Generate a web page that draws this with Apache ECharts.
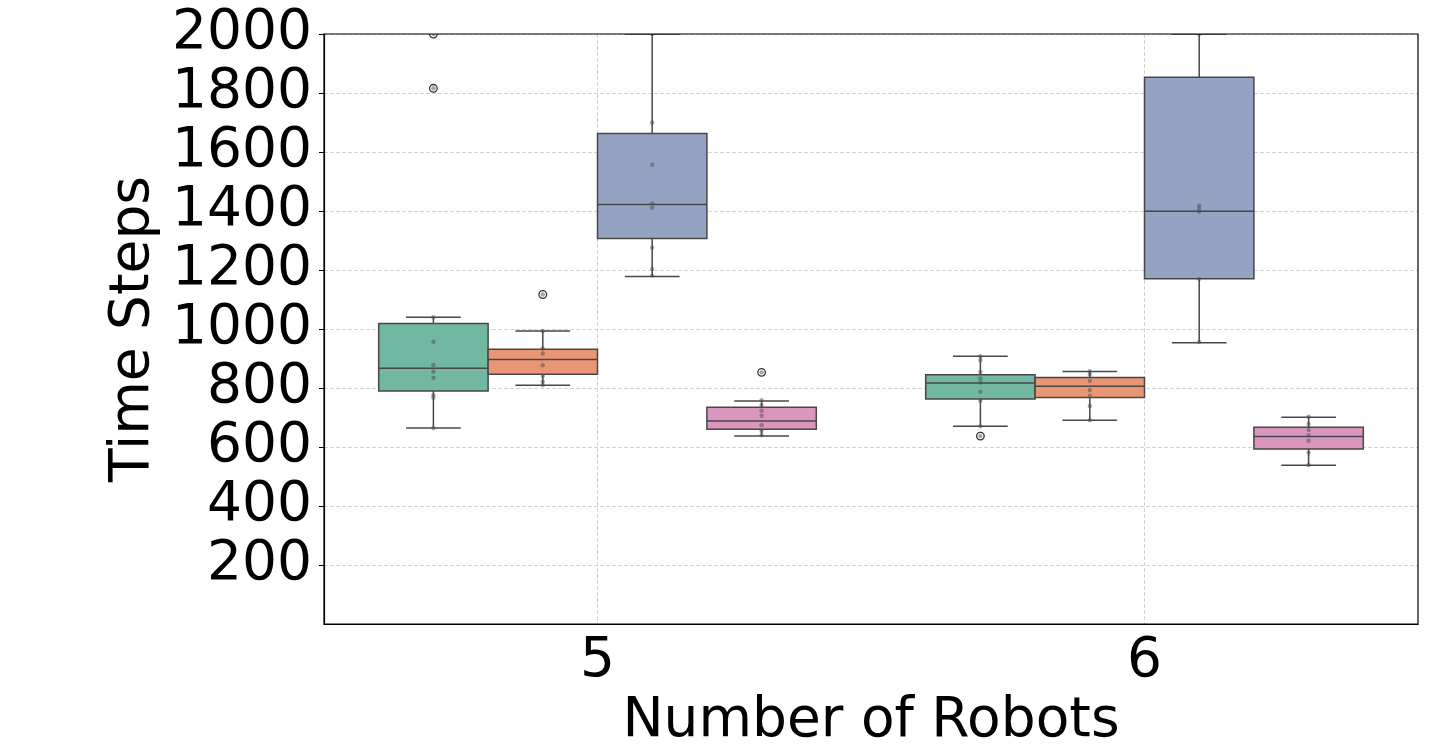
<!DOCTYPE html>
<html>
<head>
<meta charset="utf-8">
<script src="https://cdn.jsdelivr.net/npm/echarts@6/dist/echarts.min.js"></script>
<style>
html,body{margin:0;padding:0;background:#fff;}
#chart{width:1440px;height:753px;}
</style>
</head>
<body>
<div id="chart"></div>
<script>
// ---- data ----
var categories = ['5', '6'];
var hueNames = ['Method A', 'Method B', 'Method C', 'Method D'];
var hueColors = ['#71b7a1', '#e99675', '#95a3c3', '#db96c0'];

// box stats per category: [min whisker, Q1, median, Q3, max whisker]
var boxA = [[664, 790, 867, 1019, 1040], [670, 763, 817, 845, 908]];
var boxB = [[809, 847, 897, 931, 993], [691, 768, 806, 836, 856]];
var boxC = [[1178, 1307, 1422, 1663, 2000], [953, 1170, 1399, 1853, 2000]];
var boxD = [[637, 660, 688, 735, 756], [538, 593, 636, 667, 701]];

// outliers per category
var flierA = [[2000, 1816], [637]];
var flierB = [[1117], []];
var flierC = [[], []];
var flierD = [[853], []];

// individual observations per category
var pointsA = [[2000, 1816, 1040, 957, 878, 856, 835, 776, 767, 664], [908, 894, 854, 832, 819, 787, 757, 670, 637]];
var pointsB = [[1117, 993, 934, 917, 877, 841, 821, 809], [857, 846, 824, 793, 773, 739, 691]];
var pointsC = [[2000, 1700, 1557, 1426, 1411, 1276, 1203, 1181], [2000, 1418, 1408, 1398, 1170, 956]];
var pointsD = [[853, 759, 742, 723, 706, 674, 655, 640], [703, 678, 658, 640, 621, 581, 539]];

var yTicks = [200, 400, 600, 800, 1000, 1200, 1400, 1600, 1800, 2000];

var boxes = [boxA, boxB, boxC, boxD];
var fliers = [flierA, flierB, flierC, flierD];
var points = [pointsA, pointsB, pointsC, pointsD];

var LINE = '#474747';
var FONT = 'DejaVu Sans';

function hueCenter(api, cat, hue) {
  var band = api.size([1, 0])[0];
  var w = band * 0.8 / 4;
  return { cx: api.coord([cat, 0])[0] + (hue - 1.5) * w, w: w };
}

function boxRender(hue) {
  return function (params, api) {
    var cat = api.value(0);
    var hc = hueCenter(api, cat, hue);
    var cx = hc.cx, w = hc.w;
    function y(v) { return api.coord([cat, v])[1]; }
    var ymin = y(api.value(1)), yq1 = y(api.value(2)), ymed = y(api.value(3)),
        yq3 = y(api.value(4)), ymax = y(api.value(5));
    var ls = { stroke: LINE, lineWidth: 1.5 };
    return {
      type: 'group',
      children: [
        { type: 'line', shape: { x1: cx, y1: yq3, x2: cx, y2: ymax }, style: ls },
        { type: 'line', shape: { x1: cx, y1: yq1, x2: cx, y2: ymin }, style: ls },
        { type: 'line', shape: { x1: cx - w / 4, y1: ymax, x2: cx + w / 4, y2: ymax }, style: ls },
        { type: 'line', shape: { x1: cx - w / 4, y1: ymin, x2: cx + w / 4, y2: ymin }, style: ls },
        { type: 'rect', shape: { x: cx - w / 2, y: yq3, width: w, height: yq1 - yq3 },
          style: { fill: hueColors[hue], stroke: LINE, lineWidth: 1.5 } },
        { type: 'line', shape: { x1: cx - w / 2, y1: ymed, x2: cx + w / 2, y2: ymed }, style: ls }
      ]
    };
  };
}

function flierRender(hue) {
  return function (params, api) {
    var cat = api.value(0);
    var hc = hueCenter(api, cat, hue);
    var p = api.coord([cat, api.value(1)]);
    return { type: 'circle', shape: { cx: hc.cx, cy: p[1], r: 3.8 },
      style: { fill: '#ffffff', stroke: '#333333', lineWidth: 1.3 } };
  };
}

function pointRender(hue) {
  return function (params, api) {
    var cat = api.value(0);
    var hc = hueCenter(api, cat, hue);
    var p = api.coord([cat, api.value(1)]);
    return { type: 'circle', shape: { cx: hc.cx, cy: p[1], r: 2.2 },
      style: { fill: '#4d4d4d', opacity: 0.5 } };
  };
}

var series = [];
// vertical dashed grid lines at category centres
series.push({
  type: 'custom', name: 'vgrid', z: 1, silent: true,
  data: categories.map(function (c, i) { return [i, 0]; }),
  renderItem: function (params, api) {
    var x = api.coord([api.value(0), 0])[0];
    var cs = params.coordSys;
    return { type: 'line', shape: { x1: x, y1: cs.y, x2: x, y2: cs.y + cs.height },
      style: { stroke: '#cfcfcf', lineWidth: 0.9, lineDash: [4, 2] } };
  }
});

for (var h = 0; h < 4; h++) {
  series.push({
    type: 'custom', name: hueNames[h], z: 2, clip: true,
    data: boxes[h].map(function (b, i) { return [i].concat(b); }),
    encode: { x: 0, y: [1, 2, 3, 4, 5] },
    renderItem: boxRender(h)
  });
}
for (var h2 = 0; h2 < 4; h2++) {
  var fd = [];
  fliers[h2].forEach(function (arr, i) { arr.forEach(function (v) { fd.push([i, v]); }); });
  series.push({ type: 'custom', name: hueNames[h2] + ' outliers', z: 3, clip: true,
    data: fd, encode: { x: 0, y: 1 }, renderItem: flierRender(h2) });
}
for (var h3 = 0; h3 < 4; h3++) {
  var pd = [];
  points[h3].forEach(function (arr, i) { arr.forEach(function (v) { pd.push([i, v]); }); });
  series.push({ type: 'custom', name: hueNames[h3] + ' points', z: 4, clip: true,
    data: pd, encode: { x: 0, y: 1 }, renderItem: pointRender(h3) });
}
// black frame (axes spines) drawn on top
series.push({
  type: 'custom', name: 'frame', z: 10, silent: true, clip: false,
  data: [[0, 0]],
  renderItem: function (params, api) {
    var cs = params.coordSys;
    return { type: 'rect', shape: { x: cs.x, y: cs.y, width: cs.width, height: cs.height },
      style: { fill: 'none', stroke: '#000', lineWidth: 1.2 } };
  }
});

var chart = echarts.init(document.getElementById('chart'), null, { renderer: 'canvas' });
chart.setOption({
  animation: false,
  backgroundColor: '#ffffff',
  grid: { left: 324, right: 22, top: 34, bottom: 129, show: false, containLabel: false, outerBoundsMode: 'none' },
  xAxis: {
    type: 'category', data: categories, boundaryGap: true,
    name: 'Number of Robots', nameLocation: 'middle', nameGap: 59,
    nameTextStyle: { fontFamily: FONT, fontSize: 55, color: '#000' },
    axisLine: { lineStyle: { color: '#000', width: 1.2 } },
    axisTick: { alignWithLabel: true, length: 5, lineStyle: { color: '#000', width: 1 } },
    axisLabel: { fontFamily: FONT, fontSize: 55, color: '#000', margin: 10 },
    splitLine: { show: false }
  },
  yAxis: {
    type: 'value', min: 0, max: 2000, interval: 200,
    name: 'Time Steps', nameLocation: 'middle', nameGap: 154,
    nameTextStyle: { fontFamily: FONT, fontSize: 55, color: '#000' },
    axisLine: { show: true, lineStyle: { color: '#000', width: 1.2 } },
    axisTick: { show: true, length: 5, customValues: yTicks, lineStyle: { color: '#000', width: 1 } },
    axisLabel: { fontFamily: FONT, fontSize: 55, color: '#000', margin: 12,
      formatter: function (v) { return yTicks.indexOf(v) >= 0 ? String(v) : ''; } },
    splitLine: { show: true, lineStyle: { color: '#cfcfcf', width: 0.9, type: [4, 2] } }
  },
  series: series
});
</script>
</body>
</html>
